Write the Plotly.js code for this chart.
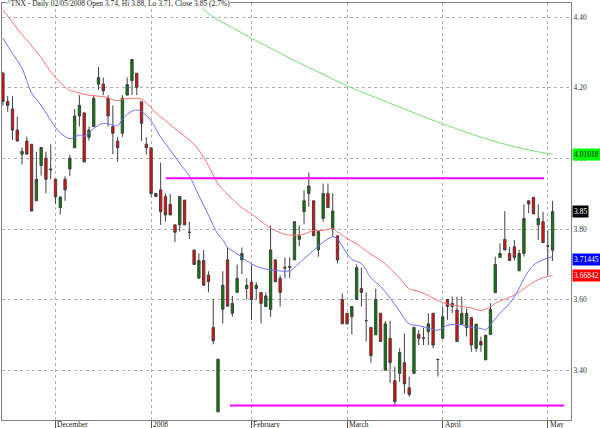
<!DOCTYPE html>
<html><head><meta charset="utf-8">
<script src="https://cdn.plot.ly/plotly-3.0.1.min.js"></script>
<style>html,body{margin:0;padding:0;background:#fff}#chart{width:600px;height:428px}</style>
</head><body><div id="chart"></div>
<script>
// Daily candles, trading-day index 0..115 (mid Nov 2007 .. 02 May 2008)
const openP = [4.241,4.161,4.140,4.080,4.012,4.049,4.040,3.880,3.980,4.001,3.970,3.941,3.861,3.941,3.970,4.030,4.120,4.129,4.060,4.090,
4.210,4.210,4.170,4.090,4.049,4.071,4.179,4.220,4.241,4.160,4.040,4.030,3.892,3.911,3.892,3.870,3.812,3.812,3.882,3.791,
3.741,3.661,3.711,3.670,3.522,3.283,3.573,3.713,3.562,3.621,3.713,3.632,3.650,3.632,3.621,3.581,3.573,3.713,3.661,3.692,
3.692,3.713,3.771,3.849,3.901,3.880,3.741,3.830,3.901,3.800,3.781,3.601,3.562,3.552,3.601,3.632,3.541,3.522,3.501,3.562,
3.401,3.491,3.371,3.392,3.422,3.351,3.392,3.502,3.491,3.510,3.562,3.432,3.491,3.601,3.581,3.571,3.531,3.521,3.550,3.463,
3.482,3.430,3.502,3.620,3.720,3.771,3.731,3.750,3.682,3.731,3.880,3.890,3.812,3.821,3.752,3.74];
const highP = [4.245,4.177,4.177,4.118,4.031,4.062,4.040,4.019,4.031,4.019,4.040,3.941,3.891,3.950,4.010,4.140,4.179,4.129,4.090,4.179,
4.258,4.229,4.179,4.150,4.060,4.179,4.229,4.280,4.241,4.160,4.060,4.030,3.901,3.988,3.901,3.899,3.812,3.892,3.882,3.821,
3.741,3.731,3.741,3.681,3.602,3.432,3.681,3.748,3.611,3.700,3.748,3.661,3.700,3.650,3.621,3.621,3.810,3.713,3.670,3.720,
3.720,3.821,3.810,3.910,3.960,3.880,3.793,3.929,3.929,3.901,3.781,3.618,3.562,3.581,3.700,3.691,3.621,3.522,3.632,3.562,
3.540,3.541,3.411,3.463,3.505,3.383,3.522,3.514,3.521,3.562,3.562,3.432,3.581,3.601,3.609,3.609,3.609,3.575,3.550,3.531,
3.496,3.500,3.590,3.722,3.760,3.851,3.750,3.769,3.741,3.870,3.880,3.890,3.870,3.849,3.797,3.88];
const lowP = [4.149,4.132,4.052,4.049,3.983,4.012,3.851,3.880,3.951,3.901,3.941,3.871,3.841,3.880,3.950,4.030,4.090,3.990,4.050,4.090,
4.194,4.179,4.090,4.012,3.991,4.061,4.179,4.179,4.179,4.050,4.011,3.892,3.892,3.812,3.821,3.840,3.763,3.793,3.812,3.772,
3.700,3.661,3.641,3.621,3.474,3.283,3.533,3.582,3.552,3.621,3.673,3.601,3.543,3.601,3.533,3.581,3.552,3.651,3.581,3.661,
3.661,3.713,3.752,3.814,3.863,3.781,3.722,3.821,3.861,3.779,3.703,3.532,3.532,3.502,3.601,3.581,3.482,3.422,3.501,3.482,
3.401,3.364,3.298,3.368,3.335,3.326,3.392,3.472,3.472,3.472,3.463,3.383,3.491,3.543,3.562,3.482,3.531,3.496,3.453,3.453,
3.453,3.430,3.502,3.620,3.720,3.741,3.711,3.711,3.682,3.722,3.845,3.843,3.769,3.762,3.670,3.71];
const closeP = [4.161,4.150,4.080,4.049,4.020,4.012,3.851,3.941,4.031,3.941,3.968,3.891,3.891,3.911,4.001,4.120,4.150,3.990,4.080,4.170,
4.229,4.191,4.120,4.071,4.030,4.170,4.209,4.280,4.201,4.099,4.030,3.901,3.901,3.849,3.840,3.840,3.791,3.892,3.812,3.791,
3.700,3.711,3.641,3.651,3.484,3.432,3.641,3.582,3.590,3.661,3.731,3.641,3.601,3.641,3.590,3.611,3.741,3.651,3.621,3.690,
3.694,3.821,3.781,3.880,3.922,3.781,3.793,3.901,3.861,3.851,3.713,3.532,3.532,3.581,3.691,3.621,3.541,3.442,3.601,3.482,
3.532,3.422,3.312,3.451,3.362,3.332,3.522,3.491,3.492,3.532,3.472,3.431,3.552,3.581,3.590,3.482,3.562,3.562,3.472,3.531,
3.472,3.500,3.573,3.700,3.731,3.741,3.711,3.720,3.731,3.830,3.871,3.843,3.830,3.762,3.752,3.85];

// Moving averages (index, value)
const blueIdx = [0,2,4,6,8,10,12,14,15,16,17,19,21,23,24,25,27,28,29,31,33,35,37,39,41,43,45,46,47,49,51,53,55,57,60,61,63,65,67,69,70,71,73,75,77,79,81,83,85,87,89,91,93,96,98,100,101,102,104,106,108,109,111,113,115];
const blueVal = [4.34,4.297,4.255,4.185,4.150,4.108,4.072,4.056,4.060,4.066,4.063,4.085,4.099,4.095,4.092,4.111,4.134,4.137,4.133,4.106,4.060,4.024,3.986,3.950,3.895,3.840,3.785,3.770,3.748,3.730,3.710,3.695,3.687,3.683,3.682,3.692,3.716,3.740,3.763,3.778,3.772,3.752,3.714,3.703,3.662,3.638,3.605,3.568,3.532,3.527,3.520,3.514,3.528,3.529,3.522,3.519,3.515,3.530,3.562,3.590,3.632,3.660,3.698,3.713,3.722];
const redIdx = [0,2,4,5,8,10,12,14,15,17,20,22,23,24,25,27,29,30,32,34,36,38,40,42,44,45,46,48,50,52,54,56,58,60,63,65,67,69,70,72,74,77,79,81,83,85,87,89,91,93,96,98,100,102,103,105,107,110,112,114,115];
const redVal = [4.42,4.385,4.35,4.335,4.285,4.245,4.215,4.192,4.189,4.181,4.176,4.172,4.166,4.163,4.167,4.170,4.168,4.157,4.129,4.107,4.084,4.063,4.040,4.003,3.953,3.928,3.912,3.885,3.860,3.843,3.822,3.803,3.790,3.783,3.786,3.796,3.796,3.802,3.792,3.774,3.758,3.729,3.712,3.689,3.661,3.631,3.624,3.612,3.598,3.588,3.581,3.577,3.570,3.580,3.590,3.602,3.613,3.641,3.657,3.666,3.668];
const greenIdx = [38,40,44,48,52,56,62,67,72,78,83,88,93,100,107,115];
const greenVal = [4.47,4.445,4.40,4.37,4.34,4.312,4.270,4.238,4.205,4.172,4.145,4.118,4.093,4.060,4.033,4.011];

// Horizontal trend levels
const trendStart = [34.1, 47.5];
const trendEnd = [113.2, 117.4];
const trendLevel = [3.944, 3.301];

// Axis ticks
const monthIdx = [11,31,52,72,92,114];
const monthLabels = ['December','2008','February','March','April','May'];
const priceTicks = [3.40,3.60,3.80,4.00,4.20,4.40];

// Last values boxes
const lastLabels = ['4.01018','3.85','3.71445','3.66842'];
const lastValues = [4.01018,3.85,3.71445,3.66842];
const lastBg = ['#00ff00','#000000','#0000ff','#ff0000'];
const lastFg = ['#000000','#ffffff','#ffffff','#ffffff'];

const titleText = '^TNX - Daily 02/05/2008 Open 3.74, Hi 3.88, Lo 3.71, Close 3.85 (2.7%)';

const xs = openP.map((_, i) => i);
const serif = 'Liberation Serif, Times New Roman, serif';

const traces = [
  {type:'scatter', mode:'lines', x:greenIdx, y:greenVal, line:{color:'#6fe36f', width:1, shape:'spline'}, hoverinfo:'skip'},
  {type:'scatter', mode:'lines', x:redIdx, y:redVal, line:{color:'#ff7070', width:1, shape:'spline'}, hoverinfo:'skip'},
  {type:'scatter', mode:'lines', x:blueIdx, y:blueVal, line:{color:'#7070ff', width:1, shape:'spline'}, hoverinfo:'skip'},
];
trendLevel.forEach((lv, k) => {
  traces.push({type:'scatter', mode:'lines', x:[trendStart[k], trendEnd[k]], y:[lv, lv], line:{color:'#ff00ff', width:2}, hoverinfo:'skip'});
});
traces.push({
  type:'candlestick', x:xs, open:openP, high:highP, low:lowP, close:closeP,
  increasing:{line:{color:'#404040', width:1}, fillcolor:'#008000'},
  decreasing:{line:{color:'#404040', width:1}, fillcolor:'#ff0000'},
  whiskerwidth:0
});

const annotations = [];
monthIdx.forEach((ix, k) => {
  annotations.push({x:ix, xref:'x', y:0, yref:'paper', yanchor:'top', xanchor:'left', xshift:1, yshift:1,
    text:monthLabels[k], showarrow:false, borderpad:0, font:{family:serif, size:7.5, color:'#222'}});
});
lastValues.forEach((v, k) => {
  annotations.push({x:1, xref:'paper', y:v, yref:'y', xanchor:'left', yanchor:'middle', xshift:1,
    text:lastLabels[k], showarrow:false, bgcolor:lastBg[k], borderpad:1, font:{family:serif, size:7.5, color:lastFg[k]}});
});
annotations.push({x:0, xref:'paper', y:1, yref:'paper', xanchor:'left', yanchor:'middle', xshift:4,
  text:titleText, showarrow:false, bgcolor:'#ffffff', borderpad:0, font:{family:serif, size:7.5, color:'#222'}});

const layout = {
  width:600, height:428,
  margin:{l:2, r:29, t:3, b:8},
  paper_bgcolor:'#ffffff', plot_bgcolor:'#ffffff',
  showlegend:false,
  xaxis:{range:[-0.19, 118.85], tickvals:monthIdx, ticktext:monthLabels, showticklabels:false,
    ticks:'outside', ticklen:7, tickcolor:'#555', showgrid:true, gridcolor:'#b0b0b0', griddash:'dot', gridwidth:1,
    showline:true, linecolor:'#808080', linewidth:1, mirror:true, zeroline:false, rangeslider:{visible:false}, fixedrange:true},
  yaxis:{range:[3.260, 4.4396], side:'right', tickvals:priceTicks, ticktext:priceTicks.map(v=>v.toFixed(2)),
    ticks:'', showgrid:true, gridcolor:'#b0b0b0', griddash:'dot', gridwidth:1,
    showline:true, linecolor:'#808080', linewidth:1, mirror:true, zeroline:false,
    tickfont:{family:serif, size:7.5, color:'#333'}, fixedrange:true},
  annotations:annotations
};
Plotly.newPlot('chart', traces, layout, {displayModeBar:false, staticPlot:true});
</script>
</body></html>
